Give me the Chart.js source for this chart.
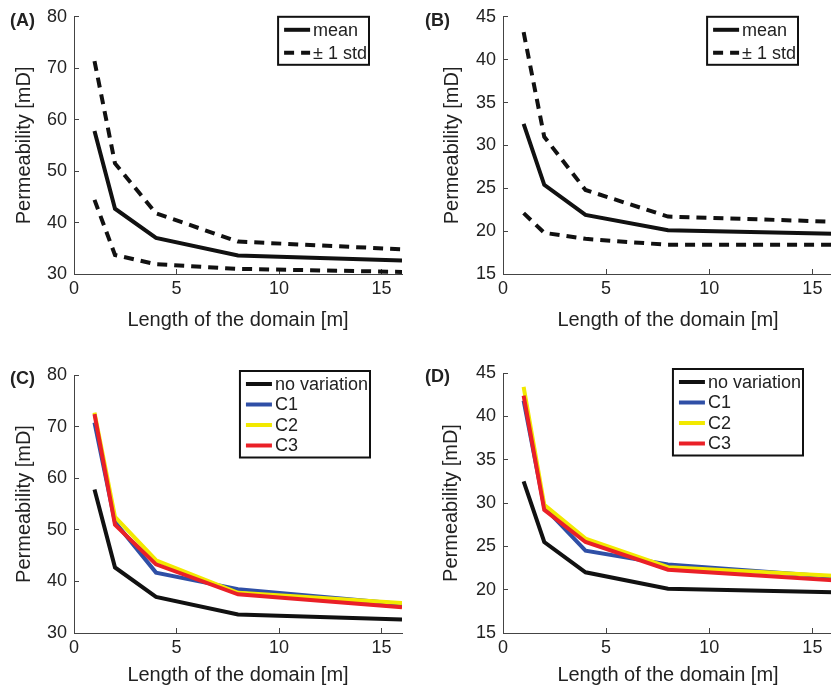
<!DOCTYPE html>
<html>
<head>
<meta charset="utf-8">
<script src="https://cdn.jsdelivr.net/npm/chart.js@4.4.1/dist/chart.umd.min.js"></script>
<style>
body { margin: 0; width: 831px; height: 688px; overflow: hidden; background: #fff; position: relative; }
canvas { position: absolute; }
</style>
</head>
<body>
<canvas id="chartA" width="415" height="346" style="left:0;top:-6px"></canvas>
<canvas id="chartB" width="420" height="346" style="left:415px;top:-6px"></canvas>
<canvas id="chartC" width="415" height="348" style="left:0;top:340px"></canvas>
<canvas id="chartD" width="420" height="348" style="left:415px;top:340px"></canvas>
<script>
// domain lengths [m]
const lengths = [1, 2, 4, 8, 16];
const xTicks = [0, 5, 10, 15];

// (A) permeability, case 1
const meanA = [57.8, 42.7, 37.0, 33.6, 32.6];
const upperA = [71.4, 51.5, 41.8, 36.3, 34.8];
const lowerA = [44.4, 33.7, 31.9, 31.0, 30.4];

// (B) permeability, case 2
const meanB = [32.5, 25.4, 21.9, 20.1, 19.7];
const upperB = [43.2, 31.0, 24.8, 21.7, 21.1];
const lowerB = [22.1, 19.8, 19.1, 18.4, 18.4];

// (C) variations vs no variation (case 1)
const noVarC = [57.8, 42.7, 37.0, 33.6, 32.6];
const c1C = [70.8, 51.5, 41.7, 38.5, 35.6];
const c2C = [72.7, 52.5, 44.1, 37.8, 35.8];
const c3C = [72.4, 51.0, 43.3, 37.5, 35.0];

// (D) variations vs no variation (case 2)
const noVarD = [32.5, 25.5, 22.0, 20.1, 19.7];
const c1D = [41.8, 29.5, 24.5, 22.9, 21.5];
const c2D = [43.4, 29.8, 25.9, 22.6, 21.6];
const c3D = [42.4, 29.2, 25.5, 22.3, 21.1];

const FONT = '"Liberation Sans", Arial, Helvetica, sans-serif';
const TXT = '#222';
const AXIS = '#444';
const LW = 4;

function pts(ys) {
    return lengths.map((x, i) => ({x: x, y: ys[i]}));
}

// legend with a frame, drawn inside the plot like matlab does
const boxLegend = {
    id: 'boxLegend',
    afterDraw(chart, args, opts) {
        const ctx = chart.ctx;
        const items = chart.data.datasets.filter(d => !d.noLegend);
        ctx.save();
        ctx.font = '18px ' + FONT;
        let textW = Math.max(...items.map(d => ctx.measureText(d.label).width));
        const w = 6 + 26 + 3 + textW + 2;
        const h = 13 + (items.length - 1) * opts.rowH + 12;
        const x0 = chart.chartArea.right - opts.right - w;
        const y0 = chart.chartArea.top + opts.top;
        ctx.fillStyle = '#fff';
        ctx.fillRect(x0, y0, w, h);
        ctx.strokeStyle = '#111';
        ctx.lineWidth = 2;
        ctx.strokeRect(x0, y0, w, h);
        items.forEach((d, i) => {
            const cy = y0 + 13 + i * opts.rowH;
            ctx.beginPath();
            ctx.setLineDash(d.borderDash || []);
            ctx.lineWidth = d.borderWidth || LW;
            ctx.strokeStyle = d.borderColor;
            ctx.moveTo(x0 + 6, cy);
            ctx.lineTo(x0 + 32, cy);
            ctx.stroke();
            ctx.setLineDash([]);
            ctx.fillStyle = TXT;
            ctx.textBaseline = 'middle';
            ctx.textAlign = 'left';
            ctx.fillText(d.label, x0 + 35, cy + 1);
        });
        ctx.restore();
    }
};

const panelLabel = {
    id: 'panelLabel',
    afterDraw(chart, args, opts) {
        const ctx = chart.ctx;
        ctx.save();
        ctx.font = 'bold 18px ' + FONT;
        ctx.fillStyle = TXT;
        ctx.textBaseline = 'middle';
        ctx.textAlign = 'left';
        ctx.fillText(opts.text, 10, chart.chartArea.top + 4);
        ctx.restore();
    }
};

function makeChart(id, datasets, p) {
    return new Chart(document.getElementById(id), {
        type: 'line',
        data: {datasets: datasets},
        options: {
            responsive: false,
            animation: false,
            devicePixelRatio: 1,
            layout: {padding: {top: p.top, right: p.right, left: 0, bottom: 0}},
            elements: {
                point: {radius: 0},
                line: {tension: 0, borderWidth: LW, borderCapStyle: 'butt', borderJoinStyle: 'miter', fill: false}
            },
            scales: {
                x: {
                    type: 'linear',
                    min: 0,
                    max: 16,
                    afterBuildTicks: s => { s.ticks = xTicks.map(v => ({value: v})); },
                    afterFit: s => { s.height = p.xH; },
                    grid: {drawOnChartArea: false, drawTicks: true, tickLength: -5, color: AXIS},
                    border: {color: AXIS, width: 1},
                    ticks: {font: {family: FONT, size: 18}, color: TXT, padding: 9, maxRotation: 0},
                    title: {display: true, text: 'Length of the domain [m]', font: {family: FONT, size: 20}, color: TXT, padding: {top: 0, bottom: p.xTitlePad}}
                },
                y: {
                    min: p.yMin,
                    max: p.yMax,
                    afterFit: s => { s.width = p.yW; },
                    grid: {drawOnChartArea: false, drawTicks: true, tickLength: -5, color: AXIS},
                    border: {color: AXIS, width: 1},
                    ticks: {stepSize: p.yStep, font: {family: FONT, size: 18}, color: TXT, padding: 12},
                    title: {display: true, text: 'Permeability [mD]', font: {family: FONT, size: 20}, color: TXT, padding: {top: p.yTitlePad, bottom: 0}}
                }
            },
            plugins: {
                legend: {display: false},
                tooltip: {enabled: false},
                boxLegend: p.legend,
                panelLabel: {text: p.label}
            }
        },
        plugins: [boxLegend, panelLabel]
    });
}

const dash = [10, 7];

makeChart('chartA', [
    {label: 'mean', data: pts(meanA), borderColor: '#111'},
    {label: '± 1 std', data: pts(upperA), borderColor: '#111', borderDash: dash},
    {label: '± 1 std', data: pts(lowerA), borderColor: '#111', borderDash: dash, noLegend: true}
], {top: 16, right: 13, yW: 74, xH: 66, yMin: 30, yMax: 80, yStep: 10, yTitlePad: 12, xTitlePad: 8,
    legend: {right: 33, top: 0, rowH: 23}, label: '(A)'});

makeChart('chartB', [
    {label: 'mean', data: pts(meanB), borderColor: '#111'},
    {label: '± 1 std', data: pts(upperB), borderColor: '#111', borderDash: dash},
    {label: '± 1 std', data: pts(lowerB), borderColor: '#111', borderDash: dash, noLegend: true}
], {top: 16, right: 2, yW: 88, xH: 66, yMin: 15, yMax: 45, yStep: 5, yTitlePad: 25, xTitlePad: 8,
    legend: {right: 35, top: 0, rowH: 23}, label: '(B)'});

makeChart('chartC', [
    {label: 'no variation', data: pts(noVarC), borderColor: '#111', order: 4},
    {label: 'C1', data: pts(c1C), borderColor: '#2f4fa6', order: 3},
    {label: 'C2', data: pts(c2C), borderColor: '#f2e900', order: 2},
    {label: 'C3', data: pts(c3C), borderColor: '#ea2027', order: 1}
], {top: 35, right: 13, yW: 74, xH: 55, yMin: 30, yMax: 80, yStep: 10, yTitlePad: 12, xTitlePad: 1,
    legend: {right: 32, top: -4, rowH: 20.5}, label: '(C)'});

makeChart('chartD', [
    {label: 'no variation', data: pts(noVarD), borderColor: '#111', order: 4},
    {label: 'C1', data: pts(c1D), borderColor: '#2f4fa6', order: 3},
    {label: 'C2', data: pts(c2D), borderColor: '#f2e900', order: 2},
    {label: 'C3', data: pts(c3D), borderColor: '#ea2027', order: 1}
], {top: 33, right: 2, yW: 88, xH: 55, yMin: 15, yMax: 45, yStep: 5, yTitlePad: 24, xTitlePad: 1,
    legend: {right: 30, top: -4, rowH: 20.5}, label: '(D)'});
</script>
</body>
</html>
